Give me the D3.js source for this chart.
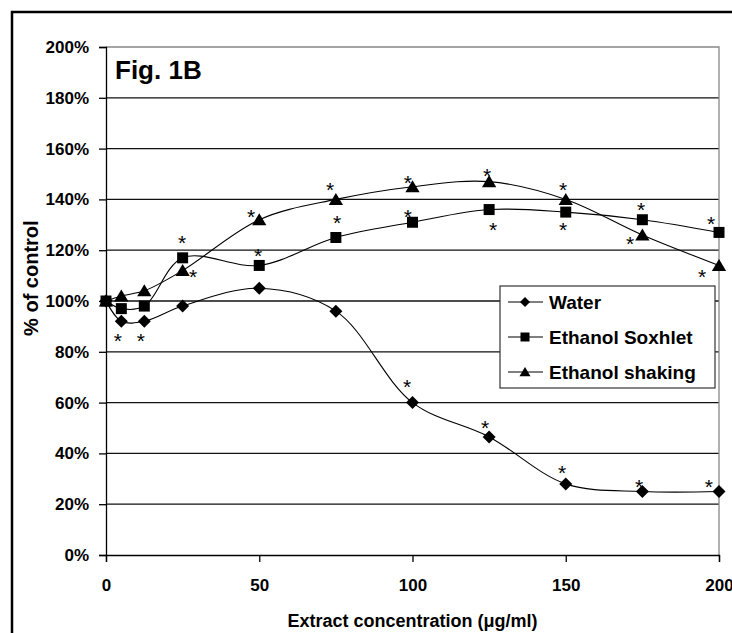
<!DOCTYPE html>
<html>
<head>
<meta charset="utf-8">
<script src="https://cdn.jsdelivr.net/npm/d3@7"></script>
<style>
  body { margin: 0; background: #fff; }
  #chart { width: 732px; height: 633px; }
  text { font-family: Arial, "Liberation Sans", sans-serif; font-weight: bold; fill: #000; }
</style>
</head>
<body>
<div id="chart"></div>
<script>
// Fig. 1B - % of control against extract concentration

// Data
const concentrations = [0, 5, 12.5, 25, 50, 75, 100, 125, 150, 175, 200];
const water   = [100, 92, 92, 98, 105, 96, 60, 46.5, 28, 25, 25];
const soxhlet = [100, 97, 98, 117, 114, 125, 131, 136, 135, 132, 127];
const shaking = [100, 102, 104, 112, 132, 140, 145, 147, 140, 126, 114];

// Significance asterisks, [concentration, % of control]
const waterStars   = [[3.9, 86], [11.4, 86], [98.2, 67.6], [123.7, 51.5], [148.8, 33.8], [173.9, 28.3], [196.7, 28.3]];
const soxhletStars = [[24.8, 124.6], [49.6, 119.1], [75.4, 132.4], [98.5, 134.8], [126.3, 129.7], [149.1, 129.7], [174.6, 137.5], [197.4, 132]];
const shakingStars = [[28.4, 111.2], [47.3, 134.8], [73.1, 145.4], [98.5, 148.1], [124.3, 150.9], [149.1, 145.4], [171, 124.2], [194.5, 111.2]];

const xTicks = [0, 50, 100, 150, 200];
const yTicks = [0, 20, 40, 60, 80, 100, 120, 140, 160, 180, 200];
const labels = ["Water", "Ethanol Soxhlet", "Ethanol shaking"];
const markers = ["diamond", "square", "triangle"];

// Marker shapes centred on 0,0
function markerPath(kind, s) {
    if (kind == "diamond")
        return "M0," + (-s) + "L" + s + ",0L0," + s + "L" + (-s) + ",0Z";
    if (kind == "square")
        return "M" + (-s) + "," + (-s) + "H" + s + "V" + s + "H" + (-s) + "Z";
    return "M0," + (-s) + "L" + (s * 1.1) + "," + (s * 0.85) + "L" + (-s * 1.1) + "," + (s * 0.85) + "Z";
}

function drawChart(div) {

    let cvs = d3.select(div);
    cvs.html(null);

    let width = 732, height = 633;
    let margin = { top: 47, right: 13, bottom: 78, left: 106 };

    let svg = cvs.append("svg")
        .attr("width", width)
        .attr("height", height);

    // Outer frame
    svg.append("rect")
        .attr("x", 12).attr("y", 12)
        .attr("width", 760).attr("height", 660)
        .attr("fill", "none")
        .attr("stroke", "#000")
        .attr("stroke-width", 2.5);

    let x = d3.scaleLinear()
        .domain([0, 200])
        .range([margin.left, width - margin.right]);
    let y = d3.scaleLinear()
        .domain([0, 200])
        .range([height - margin.bottom, margin.top]);

    // Horizontal gridlines
    svg.append("g")
        .selectAll("line")
        .data(yTicks.filter(d => d > 0 && d < 200))
        .join("line")
            .attr("x1", x(0)).attr("x2", x(200))
            .attr("y1", d => y(d)).attr("y2", d => y(d))
            .attr("stroke", "#111")
            .attr("stroke-width", 1.3);

    // Plot area border top and right (grey)
    svg.append("path")
        .attr("d", "M" + x(0) + "," + y(200) + "H" + x(200) + "V" + y(0))
        .attr("fill", "none")
        .attr("stroke", "#888")
        .attr("stroke-width", 1.3);

    // Y axis
    let yAxis = svg.append("g")
        .attr("transform", "translate(" + x(0) + ",0)")
        .call(d3.axisLeft(y).tickValues(yTicks).tickSize(7).tickPadding(10)
              .tickFormat(d => d + "%"));
    yAxis.selectAll("text").style("font-size", "17px");

    // X axis (last label runs off the frame as in the original)
    let xAxis = svg.append("g")
        .attr("transform", "translate(0," + y(0) + ")")
        .call(d3.axisBottom(x).tickValues(xTicks).tickSize(7).tickPadding(17));
    xAxis.selectAll("text").style("font-size", "17px");

    svg.selectAll(".domain").attr("stroke", "#000").attr("stroke-width", 1.3);
    svg.selectAll(".tick line").attr("stroke", "#000").attr("stroke-width", 1.3);

    // Axis titles
    svg.append("text")
        .text("Extract concentration (\u03bcg/ml)")
        .attr("x", (x(0) + x(200)) / 2)
        .attr("y", 627)
        .attr("text-anchor", "middle")
        .style("font-size", "18px");
    svg.append("text")
        .text("% of control")
        .attr("transform", "translate(38," + y(109) + ") rotate(-90)")
        .attr("text-anchor", "middle")
        .style("font-size", "20px");

    // Figure label
    svg.append("text")
        .text("Fig. 1B")
        .attr("x", 115).attr("y", 79)
        .style("font-size", "26px");

    // Series, shaking first so the square sits on top at 0
    let series = [water, soxhlet, shaking];
    let line = d3.line()
        .x((d, i) => x(concentrations[i]))
        .y(d => y(d))
        .curve(d3.curveCatmullRom.alpha(0.5));
    for (let i of [2, 0, 1]) {
        svg.append("path")
            .datum(series[i])
            .attr("fill", "none")
            .attr("stroke", "#000")
            .attr("stroke-width", 1.1)
            .attr("d", line);
        svg.append("g")
            .selectAll("path")
            .data(series[i])
            .join("path")
                .attr("transform", (d, j) => "translate(" + x(concentrations[j]) + "," + y(d) + ")")
                .attr("d", markerPath(markers[i], i == 1 ? 5.5 : 6.5))
                .attr("fill", "#000");
    }

    // Asterisks
    let stars = waterStars.concat(soxhletStars, shakingStars);
    svg.append("g")
        .selectAll("text")
        .data(stars)
        .join("text")
            .text("*")
            .attr("x", d => x(d[0]))
            .attr("y", d => y(d[1]))
            .attr("dy", 11)
            .attr("text-anchor", "middle")
            .style("font-weight", "normal")
            .style("font-size", "21px");

    // Legend
    let lx = 500, ly = 286;
    svg.append("rect")
        .attr("x", lx).attr("y", ly)
        .attr("width", 215).attr("height", 102)
        .attr("fill", "#fff")
        .attr("stroke", "#333")
        .attr("stroke-width", 1.2);
    for (let i = 0; i < labels.length; ++i) {
        let yy = ly + 16 + i * 35;
        svg.append("line")
            .attr("x1", lx + 8).attr("x2", lx + 43)
            .attr("y1", yy).attr("y2", yy)
            .attr("stroke", "#000")
            .attr("stroke-width", 1.1);
        svg.append("path")
            .attr("transform", "translate(" + (lx + 25) + "," + yy + ")")
            .attr("d", markerPath(markers[i], i == 1 ? 4.5 : 5))
            .attr("fill", "#000");
        svg.append("text").text(labels[i])
            .attr("x", lx + 49).attr("y", yy + 7)
            .style("font-size", "19px");
    }
}

drawChart("#chart");
</script>
</body>
</html>
